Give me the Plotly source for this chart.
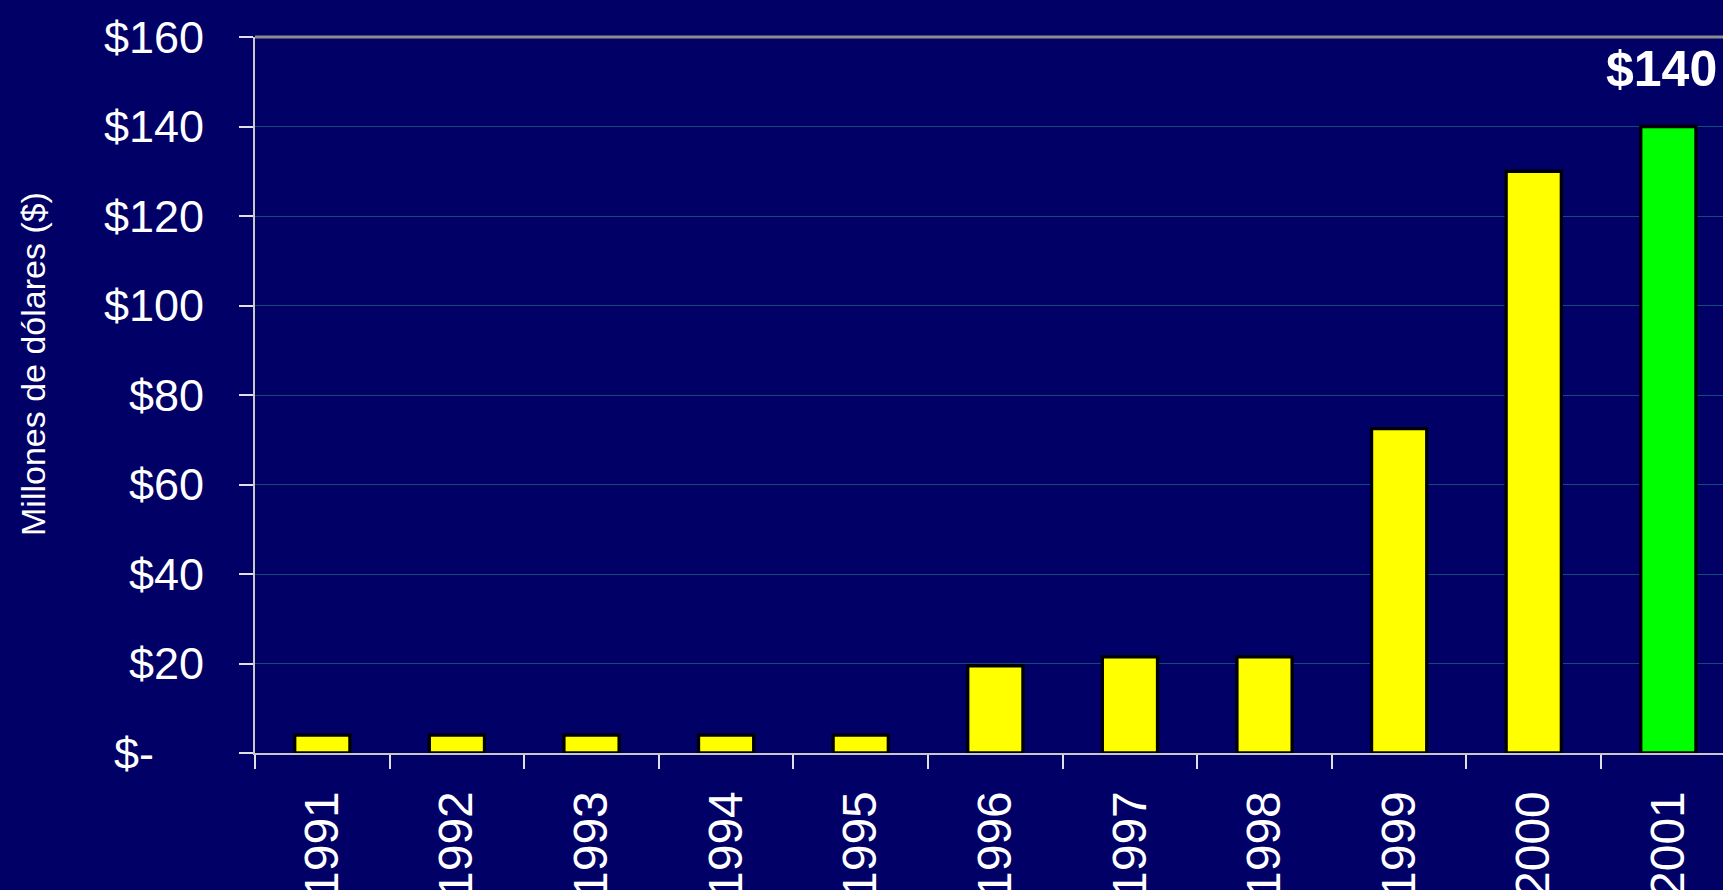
import plotly.graph_objects as go

years = ["1991", "1992", "1993", "1994", "1995", "1996", "1997", "1998", "1999", "2000", "2001"]
values = [4, 4, 4, 4, 4, 19.5, 21.5, 21.5, 72.5, 130, 140]
bar_colors = ["#FFFF00"] * 10 + ["#00FF00"]
ytick_vals = [0, 20, 40, 60, 80, 100, 120, 140, 160]
ytick_text = ["$-" + "\u00a0" * 4, "$20", "$40", "$60", "$80", "$100", "$120", "$140", "$160"]
y_title = "Millones de dólares ($)"

BG = "#000066"
FONT = "Arial, Liberation Sans, sans-serif"
W, H = 1723, 890
L, R, T, B = 255, 0, 37, 137

fig = go.Figure()
fig.add_trace(go.Bar(
    x=years, y=values, width=0.41,
    marker=dict(color=bar_colors, line=dict(color="#000000", width=3.3)),
    hoverinfo="x+y",
))

# value label above the last bar
fig.add_annotation(
    x=len(years) - 1, y=values[-1], xref="x", yref="y",
    text="<b>$" + f"{values[-1]:g}" + "</b>", showarrow=False,
    yanchor="middle", xanchor="center", yshift=58, xshift=-7,
    font=dict(family=FONT, size=50, color="white"),
)
# y-axis title (offset upward like the reference)
fig.add_annotation(
    x=(33 - L) / (W - L - R), y=(H - B - 364) / (H - B - T),
    xref="paper", yref="paper", xanchor="center", yanchor="middle",
    text=y_title, showarrow=False, textangle=-90,
    font=dict(family=FONT, size=34, color="white"),
)

fig.add_shape(type="line", xref="paper", yref="paper", x0=0, x1=1, y0=1, y1=1,
              line=dict(color="#8c8c8c", width=3), layer="above")

fig.update_layout(
    template="none",
    width=W, height=H,
    paper_bgcolor=BG, plot_bgcolor=BG,
    margin=dict(l=L, r=R, t=T, b=B, pad=0),
    showlegend=False,
    font=dict(family=FONT, color="white"),
)
fig.update_xaxes(
    type="category", range=[-0.5, 10.406], automargin=False,
    tickson="boundaries", ticks="outside", ticklen=14, tickwidth=2, tickcolor="#e0e0e0",
    showline=True, linecolor="#c8c8c8", linewidth=2,
    showgrid=False, tickangle=-90, ticklabelstandoff=17,
    tickfont=dict(family=FONT, size=48, color="white"),
    zeroline=False, fixedrange=True,
)
fig.update_yaxes(
    range=[0, 160], automargin=False,
    tickmode="array", tickvals=ytick_vals, ticktext=ytick_text,
    ticks="outside", ticklen=14, tickwidth=2, tickcolor="#e0e0e0",
    showline=True, linecolor="#c8c8c8", linewidth=2,
    showgrid=True, gridcolor="#124a78", gridwidth=1,
    zeroline=False, ticklabelstandoff=26,
    tickfont=dict(family=FONT, size=45, color="white"),
    fixedrange=True,
)

fig.write_html(
    "out.html",
    config={"displayModeBar": False},
    post_script="document.body.style.margin='0';document.body.style.overflow='hidden';",
)
